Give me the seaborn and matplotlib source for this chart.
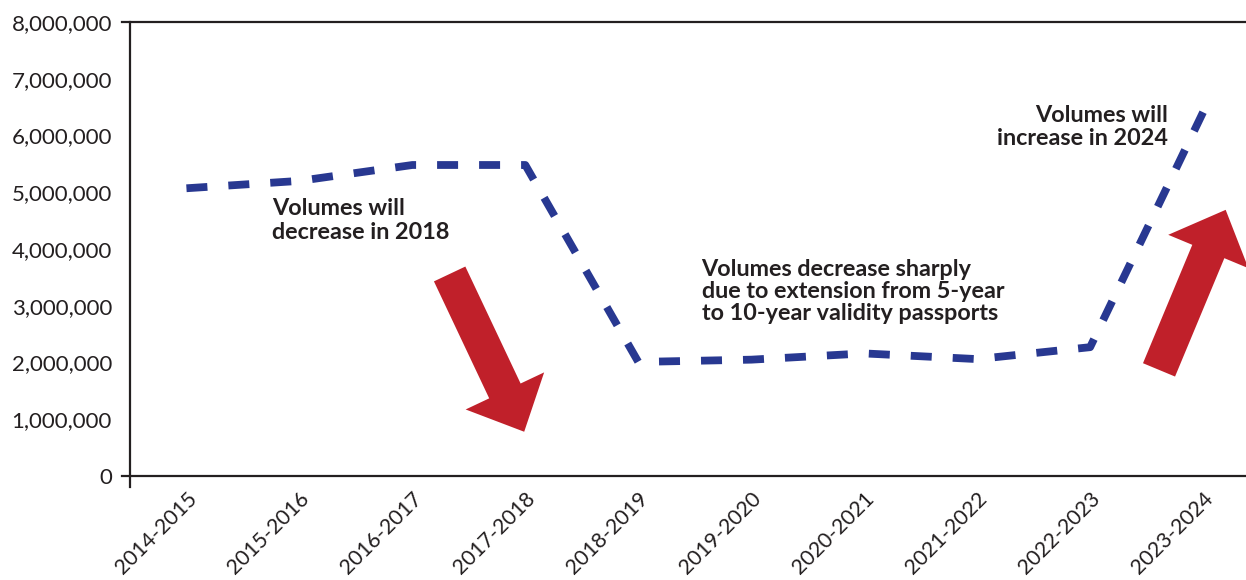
import numpy as np
import pandas as pd
import matplotlib
matplotlib.use('Agg')
import matplotlib.pyplot as plt
import seaborn as sns
from matplotlib.ticker import FuncFormatter

# --- Data ---
years = ['2014-2015', '2015-2016', '2016-2017', '2017-2018', '2018-2019',
         '2019-2020', '2020-2021', '2021-2022', '2022-2023', '2023-2024']
volumes = [5070000, 5200000, 5480000, 5480000, 2010000,
           2050000, 2160000, 2060000, 2270000, 6410000]

df = pd.DataFrame({'pos': np.arange(len(years)), 'volume': volumes})

sns.set_style('white')
plt.rcParams['font.family'] = ['Lato', 'DejaVu Sans']

ink = '#231F20'
navy = '#283891'
red = '#C0202A'

fig = plt.figure(figsize=(12.46, 5.8), dpi=100)
ax = fig.add_axes([0.1043, 0.1793, 0.8957, 0.7828])

sns.lineplot(data=df, x='pos', y='volume', ax=ax, color=navy, linewidth=5.6,
             linestyle=(0, (2.7, 2.7)))

ax.set_xlim(-0.5, 9.38)
ax.set_ylim(0, 8000000)
ax.set_xticks(df['pos'])
ax.set_xticklabels(years, rotation=45, ha='right', rotation_mode='anchor',
                   fontsize=15.3, color=ink)
ax.set_yticks(np.arange(0, 8000001, 1000000))
ax.yaxis.set_major_formatter(FuncFormatter(lambda v, p: f'{int(v):,}'))
ax.tick_params(axis='y', length=0, pad=13, labelsize=16, labelcolor=ink)
ax.tick_params(axis='x', length=0, pad=9)
ax.set_xlabel('')
ax.set_ylabel('')

for side in ['left', 'bottom', 'top']:
    ax.spines[side].set_color(ink)
    ax.spines[side].set_linewidth(1.6)
ax.spines['right'].set_visible(False)
ax.spines['left'].set_bounds(-200000, 8000000)
ax.spines['bottom'].set_bounds(-0.57, 9.38)
ax.spines['top'].set_bounds(-0.57, 9.38)

# --- Annotations ---
txt = dict(fontsize=16.8, fontweight='bold', color=ink, va='top')
ax.text(0.76, 4900000, 'Volumes will\ndecrease in 2018', ha='left', linespacing=1.18, **txt)
ax.text(4.56, 3830000, 'Volumes decrease sharply\ndue to extension from 5-year\nto 10-year validity passports',
        ha='left', linespacing=1.07, **txt)
ax.text(8.69, 6530000, 'Volumes will\nincrease in 2024', ha='right', multialignment='right',
        linespacing=1.12, **txt)

arrow = dict(arrowstyle='simple,head_width=2.5,head_length=1.3,tail_width=1.0',
             mutation_scale=25, color=red, shrinkA=0, shrinkB=0, lw=0)
ax.annotate('', xy=(2.99, 780000), xytext=(2.33, 3560000), arrowprops=arrow,
            annotation_clip=False)
ax.annotate('', xy=(9.20, 4690000), xytext=(8.61, 1870000), arrowprops=arrow,
            annotation_clip=False)

fig.savefig('out.png', dpi=100)
